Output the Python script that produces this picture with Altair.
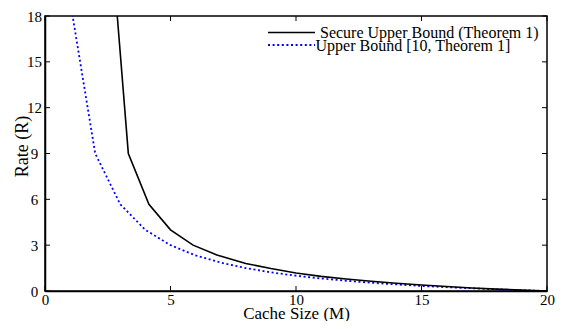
import altair as alt
import pandas as pd

# Data
m_upper = [1, 2, 3, 4, 5, 6, 7, 8, 9, 10, 11, 12, 13, 14, 15, 16, 17, 18, 19, 20]
r_upper = [19, 9.0, 5.67, 4.0, 3.0, 2.33, 1.86, 1.5, 1.22, 1.0, 0.82, 0.67,
           0.54, 0.43, 0.33, 0.25, 0.18, 0.11, 0.05, 0.0]

m_secure = [2.83, 3.32, 4.14, 5.0, 5.9, 6.85, 8.0, 9.0, 10.0, 11, 12, 13, 14, 15,
            16, 17, 18, 19, 20]
r_secure = [19.0, 9.0, 5.67, 4.0, 3.0, 2.35, 1.8, 1.47, 1.18, 0.96, 0.79, 0.64,
            0.51, 0.39, 0.29, 0.2, 0.12, 0.06, 0.0]

x_ticks = [0, 5, 10, 15, 20]
y_ticks = [0, 3, 6, 9, 12, 15, 18]

label_secure = "Secure Upper Bound (Theorem 1)"
label_upper = "Upper Bound [10, Theorem 1]"

W, H = 502, 275
FONT = "Liberation Serif"

df_up = pd.DataFrame({"M": m_upper, "R": r_upper})
df_sec = pd.DataFrame({"M": m_secure, "R": r_secure})
df_xt = pd.DataFrame({"v": x_ticks})
df_yt = pd.DataFrame({"v": y_ticks})

xs = alt.Scale(domain=[0, 20], nice=False, zero=False)
ys = alt.Scale(domain=[0, 18], nice=False, zero=False)

x_axis = alt.Axis(values=x_ticks, title="Cache Size (M)", ticks=False, tickSize=0,
                  domain=True, domainColor="black", domainWidth=1.5, grid=False,
                  labelFont=FONT, labelFontSize=15,
                  labelColor="black", labelFlush=False, labelBaseline="alphabetic",
                  labelPadding=13, labelAlign="center",
                  titleFont=FONT, titleFontSize=17, titleFontWeight="normal",
                  titleColor="black", titleBaseline="alphabetic", titleY=27,
                  titleX=W / 2, titleAnchor="middle", labelOverlap=False)
y_axis = alt.Axis(values=y_ticks, title="Rate (R)", ticks=False, tickSize=0,
                  domain=True, domainColor="black", domainWidth=1.5, grid=False,
                  labelFont=FONT, labelFontSize=15,
                  labelColor="black", labelAlign="center", labelBaseline="middle",
                  labelPadding=11, labelFlush=False,
                  titleFont=FONT, titleFontSize=18, titleFontWeight="normal",
                  titleColor="black", titleBaseline="alphabetic", titleX=-18,
                  titleY=130, titleAngle=-90, titleAlign="center", labelOverlap=False)

upper = alt.Chart(df_up).mark_line(color="#0000ff", strokeWidth=1.8,
                                   strokeDash=[2, 2.6], clip=True).encode(
    x=alt.X("M:Q", scale=xs, axis=x_axis),
    y=alt.Y("R:Q", scale=ys, axis=y_axis),
)
secure = alt.Chart(df_sec).mark_line(color="black", strokeWidth=1.6, clip=True).encode(
    x=alt.X("M:Q", scale=xs),
    y=alt.Y("R:Q", scale=ys),
)

tick_b = alt.Chart(df_xt).mark_rule(color="black", strokeWidth=1).encode(
    x=alt.X("v:Q", scale=xs), y=alt.value(H), y2=alt.value(H - 5))
tick_t = alt.Chart(df_xt).mark_rule(color="black", strokeWidth=1).encode(
    x=alt.X("v:Q", scale=xs), y=alt.value(0), y2=alt.value(5))
tick_l = alt.Chart(df_yt).mark_rule(color="black", strokeWidth=1).encode(
    y=alt.Y("v:Q", scale=ys), x=alt.value(0), x2=alt.value(5))
tick_r = alt.Chart(df_yt).mark_rule(color="black", strokeWidth=1).encode(
    y=alt.Y("v:Q", scale=ys), x=alt.value(W - 5), x2=alt.value(W))

# Legend (manual)
leg_line1 = alt.Chart(df_xt.head(1)).mark_rule(color="black", strokeWidth=1.6).encode(
    x=alt.value(223), x2=alt.value(270), y=alt.value(16.5))
leg_line2 = alt.Chart(df_xt.head(1)).mark_rule(color="#0000ff", strokeWidth=1.8,
                                               strokeDash=[2, 2.6]).encode(
    x=alt.value(223), x2=alt.value(270), y=alt.value(29))
leg_text1 = alt.Chart(pd.DataFrame({"t": [label_secure]})).mark_text(
    font=FONT, fontSize=16, align="left", baseline="alphabetic", color="black").encode(
    text="t:N", x=alt.value(275), y=alt.value(21.5))
leg_text2 = alt.Chart(pd.DataFrame({"t": [label_upper]})).mark_text(
    font=FONT, fontSize=16, align="left", baseline="alphabetic", color="black").encode(
    text="t:N", x=alt.value(270.5), y=alt.value(34.5))

chart = alt.layer(upper, secure, tick_b, tick_t, tick_l, tick_r,
                  leg_line1, leg_line2, leg_text1, leg_text2).properties(
    width=W, height=H,
    background="white",
    autosize=alt.AutoSizeParams(type="none"),
    padding={"left": 37, "top": 8, "right": 11, "bottom": 30},
).configure_view(stroke="black", strokeWidth=1.5)

chart.save("out.html", embed_options={"renderer": "svg", "actions": False})
